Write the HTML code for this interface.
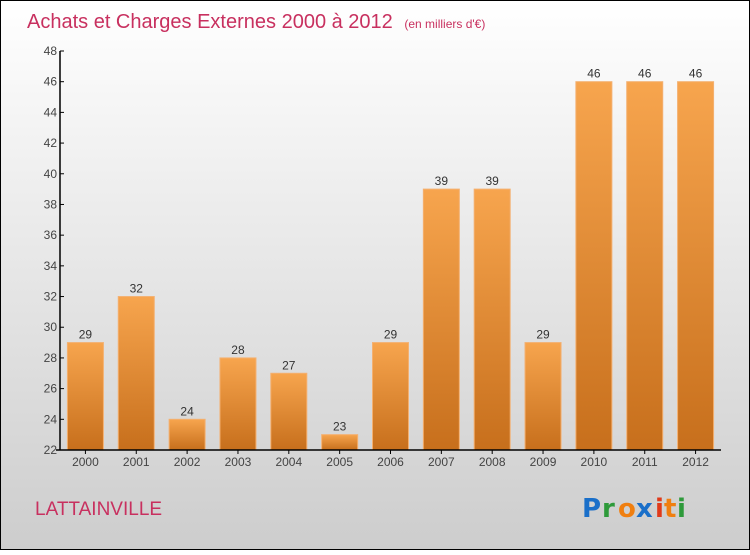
<!DOCTYPE html>
<html><head><meta charset="utf-8"><style>
body{margin:0;width:750px;height:550px;overflow:hidden;font-family:"Liberation Sans",sans-serif}
</style></head><body>
<svg width="750" height="550" xmlns="http://www.w3.org/2000/svg">
<defs>
<linearGradient id="bg" x1="0" y1="0" x2="0" y2="1"><stop offset="0" stop-color="#ffffff"/><stop offset="1" stop-color="#cdcdcd"/></linearGradient>
<linearGradient id="bar" x1="0" y1="0" x2="0" y2="1"><stop offset="0" stop-color="#f7a54e"/><stop offset="1" stop-color="#c76f1c"/></linearGradient>
</defs>
<rect x="0.5" y="0.5" width="749" height="549" fill="url(#bg)" stroke="#000"/>
<text x="27" y="28" font-size="20" fill="#c8305f">Achats et Charges Externes 2000 à 2012 <tspan font-size="12" dx="6">(en milliers d'€)</tspan></text>
<g id="plot"></g>
<text x="35" y="515" font-size="19" fill="#c8305f">LATTAINVILLE</text>
<g font-size="26" font-weight="bold" font-family="'DejaVu Sans',sans-serif">
<text x="582" y="517" fill="#1a6fc9">P</text><text x="602" y="517" fill="#2e9a3a">r</text><text x="618" y="517" fill="#f07f10">o</text><text x="636" y="517" fill="#1a6fc9">x</text><text x="655" y="517" fill="#e03a1a">i</text><text x="664" y="517" fill="#f07f10">t</text><text x="677" y="517" fill="#2e9a3a">i</text>
</g>
</svg>
<script>
const years=["2000","2001","2002","2003","2004","2005","2006","2007","2008","2009","2010","2011","2012"];
const values=[29,32,24,28,27,23,29,39,39,29,46,46,46];
const yTicks=[22,24,26,28,30,32,34,36,38,40,42,44,46,48];
const NS="http://www.w3.org/2000/svg";
const g=document.getElementById('plot');
const x0=60,x1=721,yTop=51,yBot=450,yMin=22,yMax=48;
const band=(x1-x0)/years.length;
const y=v=>yBot-(v-yMin)/(yMax-yMin)*(yBot-yTop);
function el(t,a,txt){const e=document.createElementNS(NS,t);for(const k in a)e.setAttribute(k,a[k]);if(txt!=null)e.textContent=txt;g.appendChild(e);return e;}
yTicks.forEach(t=>{
 const l=el('line',{x1:x0,x2:x0+4,y1:y(t),y2:y(t),stroke:'#000'});
 
 
 const tx=el('text',{x:x0-3,y:y(t)+4,'text-anchor':'end','font-size':12,fill:'#444'},t);
 
 
});
years.forEach((yr,i)=>{
 const cx=x0+band*(i+0.5),v=values[i];
 const r=el('rect',{x:cx-18,y:y(v),width:36,height:yBot-y(v),fill:'url(#bar)',stroke:'#f4b070','stroke-width':1});
 
 
 const vl=el('text',{x:cx,y:y(v)-4,'text-anchor':'middle','font-size':12,fill:'#333'},v);
 
 
 const tk=el('line',{x1:cx,x2:cx,y1:yBot,y2:yBot+4,stroke:'#000'});
 
 
 const xl=el('text',{x:cx,y:yBot+16,'text-anchor':'middle','font-size':12,fill:'#444'},yr);
 
 
});
const ya=el('line',{x1:x0,x2:x0,y1:yTop,y2:yBot,stroke:'#000','stroke-width':1.5});


const xa=el('line',{x1:x0-4,x2:x1,y1:yBot,y2:yBot,stroke:'#000','stroke-width':1.5});


</script>
</body></html>
